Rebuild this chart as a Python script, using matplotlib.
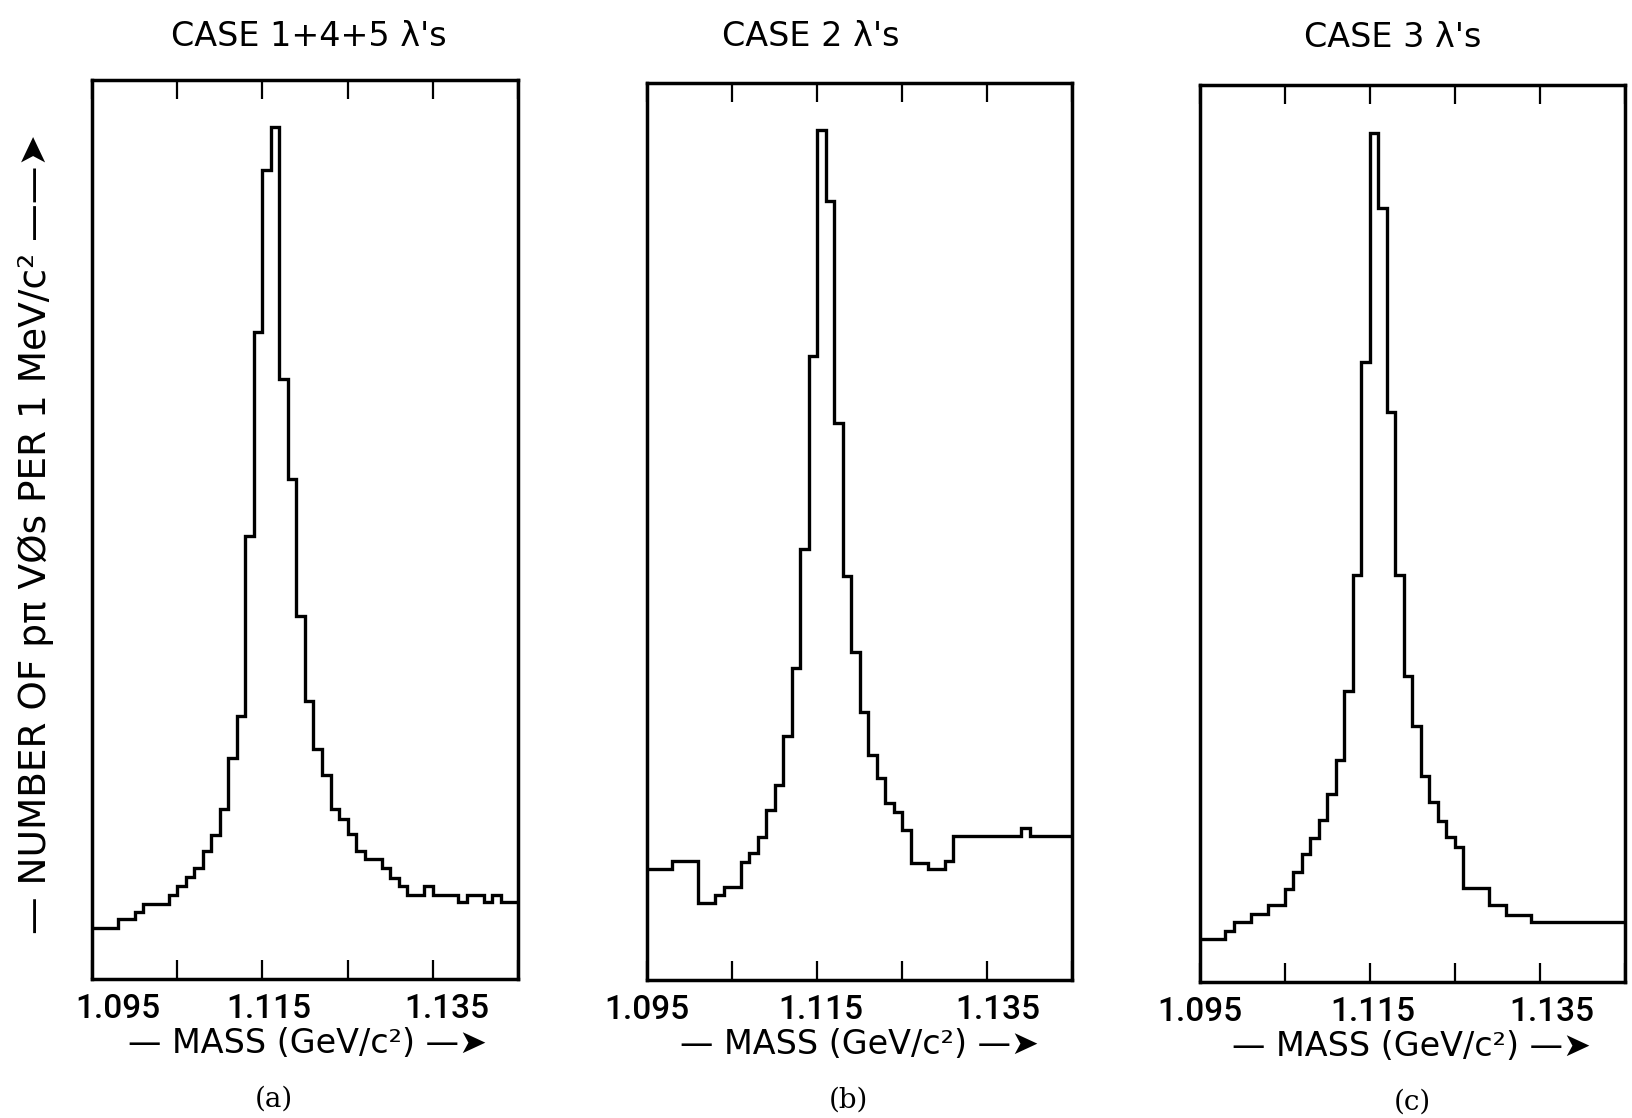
import numpy as np
import matplotlib.pyplot as plt
from matplotlib.transforms import ScaledTranslation

plt.rcParams['font.family'] = ['DejaVu Sans']

# 1 MeV/c^2 bins from 1.095 to 1.145 GeV/c^2
bin_edges = np.round(np.arange(1.095, 1.1455, 0.001), 3)

# counts per bin (arbitrary units)
counts_a = [51, 51, 51, 60, 60, 67, 75, 75, 75, 84,
            93, 102, 111, 128, 144, 170, 221, 263, 443, 646,
            808, 851, 599, 499, 363, 278, 230, 204, 170, 160,
            145, 128, 120, 120, 111, 101, 93, 84, 84, 93,
            84, 84, 84, 77, 84, 84, 77, 84, 77, 77]

counts_b = [111, 111, 111, 119, 119, 119, 77, 77, 85, 93,
            93, 118, 127, 143, 170, 195, 244, 312, 432, 625,
            851, 780, 558, 405, 328, 268, 225, 202, 177, 168,
            150, 117, 117, 111, 111, 119, 144, 144, 144, 144,
            144, 144, 144, 144, 152, 144, 144, 144, 144, 144]

counts_c = [43, 43, 43, 51, 60, 60, 68, 68, 77, 77,
            93, 110, 128, 144, 162, 188, 222, 291, 408, 621,
            850, 775, 571, 408, 306, 256, 206, 180, 161, 145,
            135, 94, 94, 94, 77, 77, 67, 67, 67, 60,
            60, 60, 60, 60, 60, 60, 60, 60, 60, 60]

titles = ["CASE 1+4+5 λ's", "CASE 2 λ's", "CASE 3 λ's"]
panel_tags = ['(a)', '(b)', '(c)']
tick_values = [1.095, 1.105, 1.115, 1.125, 1.135, 1.145]
tick_labels = ['1.095', '', '1.115', '', '1.135', '']
xlabel_text = '— MASS (GeV/c²) —➤'
ylabel_text = '— NUMBER OF pπ VØs PER 1 MeV/c² ——➤'

# layout (figure fractions / pixel nudges)
rects = [[0.0563, 0.1243, 0.2609, 0.8041],
         [0.3962, 0.1234, 0.2603, 0.8023],
         [0.7348, 0.1216, 0.2603, 0.8023]]
title_x = [0.509, 0.386, 0.454]
title_y = [1.038, 1.041, 1.042]
tag_x = [0.427, 0.475, 0.50]
xlab_x = [0.505, 0.50, 0.498]
label_shift = [[26, 0, 6, 0, 14, 0],
               [0, 0, 4, 0, 11, 0],
               [0, 0, 3, 0, 12, 0]]

fig = plt.figure(figsize=(16.33, 11.18), dpi=100)
fig.patch.set_facecolor('white')

all_counts = [counts_a, counts_b, counts_c]
for i in range(3):
    ax = fig.add_axes(rects[i])
    ax.stairs(all_counts[i], bin_edges, baseline=None, color='black', lw=2.4)
    ax.set_xlim(1.095, 1.145)
    ax.set_ylim(0, 898)
    ax.set_xticks(tick_values)
    ax.set_xticklabels(tick_labels, fontsize=24, family=['Roboto', 'DejaVu Sans'], fontweight='medium')
    ax.set_yticks([])
    ax.tick_params(axis='x', direction='in', top=True, length=14, width=1.6, pad=10)
    for sp in ax.spines.values():
        sp.set_linewidth(2.5)
    for lab, dx in zip(ax.get_xticklabels(), label_shift[i]):
        lab.set_transform(lab.get_transform() + ScaledTranslation(dx / 100, 0, fig.dpi_scale_trans))

    ax.text(title_x[i], title_y[i], titles[i], transform=ax.transAxes,
            ha='center', va='baseline', fontsize=24)
    ax.text(xlab_x[i], -0.072, xlabel_text, transform=ax.transAxes,
            ha='center', va='center', fontsize=24)
    ax.text(tag_x[i], -0.1335, panel_tags[i], transform=ax.transAxes,
            ha='center', va='center', fontsize=20, family='DejaVu Serif')

fig.text(0.022, 0.522, ylabel_text, rotation=90, ha='center', va='center', fontsize=27)

fig.savefig('out.png', dpi=100, facecolor='white')
